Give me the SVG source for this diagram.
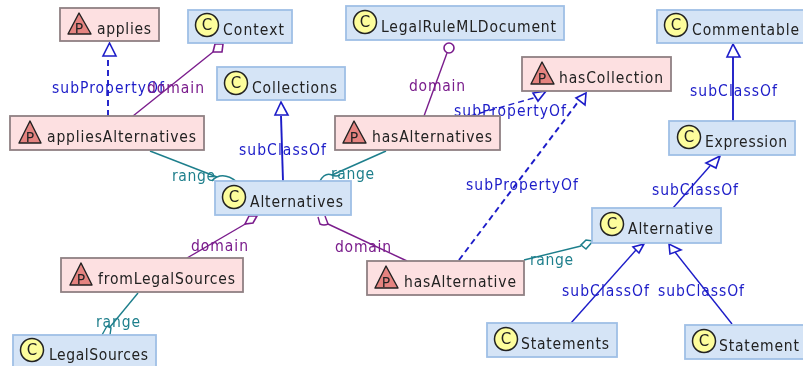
<svg xmlns="http://www.w3.org/2000/svg" width="803" height="366" viewBox="0 0 803 366">
<style>
text{font-family:"DejaVu Sans",sans-serif;font-size:15.5px;font-stretch:condensed}
.c rect{fill:#d5e4f6;stroke:#9fbfe6;stroke-width:1.8}
.p rect{fill:#fde0e1;stroke:#8f8083;stroke-width:1.8}
.c circle{fill:#fdfd9c;stroke:#222;stroke-width:1.5}
.p polygon{fill:#e58380;stroke:#222;stroke-width:1.4;stroke-linejoin:round}
text.g{font-size:15px;font-stretch:normal;fill:#222}
text.gp{font-size:14px;font-stretch:normal;fill:#222}
.n{fill:#222}
.sub{fill:#1c1cc8}.dom{fill:#7a1c8c}.ran{fill:#1f7f8c}
.l{fill:none;stroke-width:1.4}
.t{stroke-width:1.9}
.bl{stroke:#1c1cc8}.da{stroke-dasharray:6 4}
.pu{stroke:#7a1c8c}.te{stroke:#1f7f8c}
.h{fill:#fff;stroke-width:1.6}
</style>
<defs><filter id="soft" x="-2%" y="-2%" width="104%" height="104%"><feGaussianBlur stdDeviation="0.35"/></filter></defs>
<g filter="url(#soft)">
<g id="connectors">
<path class="l bl da t" d="M108 116V56"/><polygon class="h bl" points="109.500,43 103,56 116,56"/>
<path class="l pu" d="M133 116L213 52"/><polygon class="h pu" points="223,44 215,44 213,52 222,52"/>
<path class="l te" d="M150 151L217 177"/><path class="l te" d="M217 177Q226 173 237 182M217 177Q214 178 212 181"/>
<path class="l bl t" d="M283 181L281 116"/><polygon class="h bl" points="281,102 275,115 288,115"/>
<path class="l pu" d="M424 116L447 53"/><circle class="h pu" cx="449" cy="48" r="5"/>
<path class="l te" d="M386 151L332 175"/><path class="l te" d="M332 175Q325 172 320 181M332 175Q336 177 340 175"/>
<path class="l bl da" d="M470 116L537 97"/><polygon class="h bl" points="546,91 533,93 538,101"/>
<path class="l bl da t" d="M459 260L578 102"/><polygon class="h bl" points="586,93 576,98 585,105"/>
<path class="l bl t" d="M733 121V57"/><polygon class="h bl" points="733,44 727,57 740,57"/>
<path class="l bl" d="M673 208L710 166"/><polygon class="h bl" points="720,156 706,163 716,168"/>
<path class="l pu" d="M187 258L247 223"/><polygon class="h pu" points="257,216 249,216 245,224 253,223"/>
<path class="l pu" d="M407 261L328 224"/><path class="l pu" d="M318 217L320 224Q324 226 328 224L325 216"/>
<path class="l te" d="M524 260L581 246"/><polygon class="h te" points="593,241 586,240 581,245 586,249"/>
<path class="l te" d="M138 293L110 327"/><path class="l te" d="M107 326L102 335M107 326L111 328L110 335"/>
<path class="l bl" d="M571 323L636 250"/><polygon class="h bl" points="644,244 633,247 639,253"/>
<path class="l bl" d="M732 324L675 252"/><polygon class="h bl" points="669,244 670,254 681,250"/>
</g>
<g id="edge-labels">
<text class="sub" x="52" y="93" textLength="112">subPropertyOf</text>
<text class="dom" x="147" y="93" textLength="57">domain</text>
<text class="ran" x="172" y="181" textLength="43">range</text>
<text class="sub" x="239" y="155" textLength="87">subClassOf</text>
<text class="dom" x="409" y="91" textLength="56">domain</text>
<text class="ran" x="331" y="179" textLength="43">range</text>
<text class="sub" x="454" y="116" textLength="112">subPropertyOf</text>
<text class="sub" x="466" y="190" textLength="112">subPropertyOf</text>
<text class="sub" x="690" y="96" textLength="87">subClassOf</text>
<text class="sub" x="652" y="195" textLength="86">subClassOf</text>
<text class="dom" x="191" y="251" textLength="57">domain</text>
<text class="dom" x="335" y="252" textLength="56">domain</text>
<text class="ran" x="530" y="265" textLength="43">range</text>
<text class="ran" x="96" y="327" textLength="44">range</text>
<text class="sub" x="562" y="296" textLength="87">subClassOf</text>
<text class="sub" x="658" y="296" textLength="86">subClassOf</text>
</g>
<g id="applies" class="p"><rect x="60" y="8" width="99" height="33"/><polygon points="79,13 68,34 91,34"/><text class="gp" x="79" y="33" text-anchor="middle">P</text><text class="n" x="97" y="34" textLength="54">applies</text></g>
<g id="Context" class="c"><rect x="188" y="10" width="104" height="33"/><circle cx="207" cy="25" r="11.500"/><text class="g" x="207" y="30" text-anchor="middle">C</text><text class="n" x="223" y="35" textLength="61">Context</text></g>
<g id="Collections" class="c"><rect x="217" y="67" width="128" height="33"/><circle cx="236" cy="83" r="11.500"/><text class="g" x="236" y="88" text-anchor="middle">C</text><text class="n" x="252" y="93" textLength="85">Collections</text></g>
<g id="LegalRuleMLDocument" class="c"><rect x="346" y="6" width="218" height="34"/><circle cx="365" cy="22" r="11.500"/><text class="g" x="365" y="27" text-anchor="middle">C</text><text class="n" x="381" y="32" textLength="175">LegalRuleMLDocument</text></g>
<g id="hasCollection" class="p"><rect x="522" y="57" width="149" height="34"/><polygon points="542,62 531,84 554,84"/><text class="gp" x="542" y="83" text-anchor="middle">P</text><text class="n" x="559" y="83" textLength="104">hasCollection</text></g>
<g id="Commentable" class="c"><rect x="657" y="10" width="150" height="33"/><circle cx="676" cy="25" r="11.500"/><text class="g" x="676" y="30" text-anchor="middle">C</text><text class="n" x="692" y="35" textLength="107">Commentable</text></g>
<g id="Expression" class="c"><rect x="669" y="121" width="126" height="34"/><circle cx="689" cy="137" r="11.500"/><text class="g" x="689" y="142" text-anchor="middle">C</text><text class="n" x="705" y="147" textLength="82">Expression</text></g>
<g id="appliesAlternatives" class="p"><rect x="10" y="116" width="194" height="34"/><polygon points="30,121 19,143 41,143"/><text class="gp" x="30" y="142" text-anchor="middle">P</text><text class="n" x="47" y="142" textLength="149">appliesAlternatives</text></g>
<g id="hasAlternatives" class="p"><rect x="335" y="116" width="165" height="34"/><polygon points="354,121 343,143 366,143"/><text class="gp" x="354" y="142" text-anchor="middle">P</text><text class="n" x="372" y="142" textLength="120">hasAlternatives</text></g>
<g id="Alternatives" class="c"><rect x="215" y="181" width="136" height="34"/><circle cx="234" cy="197" r="11.500"/><text class="g" x="234" y="202" text-anchor="middle">C</text><text class="n" x="250" y="207" textLength="93">Alternatives</text></g>
<g id="fromLegalSources" class="p"><rect x="61" y="258" width="182" height="34"/><polygon points="81,263 70,285 92,285"/><text class="gp" x="81" y="284" text-anchor="middle">P</text><text class="n" x="98" y="284" textLength="137">fromLegalSources</text></g>
<g id="LegalSources" class="c"><rect x="13" y="335" width="143" height="34"/><circle cx="32" cy="350" r="11.500"/><text class="g" x="32" y="355" text-anchor="middle">C</text><text class="n" x="49" y="360" textLength="99">LegalSources</text></g>
<g id="hasAlternative" class="p"><rect x="367" y="261" width="157" height="34"/><polygon points="386,266 375,288 398,288"/><text class="gp" x="386" y="287" text-anchor="middle">P</text><text class="n" x="404" y="287" textLength="112">hasAlternative</text></g>
<g id="Alternative" class="c"><rect x="592" y="208" width="129" height="35"/><circle cx="612" cy="224" r="11.500"/><text class="g" x="612" y="229" text-anchor="middle">C</text><text class="n" x="628" y="234" textLength="85">Alternative</text></g>
<g id="Statements" class="c"><rect x="487" y="323" width="130" height="34"/><circle cx="506" cy="339" r="11.500"/><text class="g" x="506" y="344" text-anchor="middle">C</text><text class="n" x="521" y="349" textLength="88">Statements</text></g>
<g id="Statement" class="c"><rect x="685" y="325" width="125" height="34"/><circle cx="704" cy="341" r="11.500"/><text class="g" x="704" y="346" text-anchor="middle">C</text><text class="n" x="719" y="351" textLength="80">Statement</text></g>
</g>
</svg>
